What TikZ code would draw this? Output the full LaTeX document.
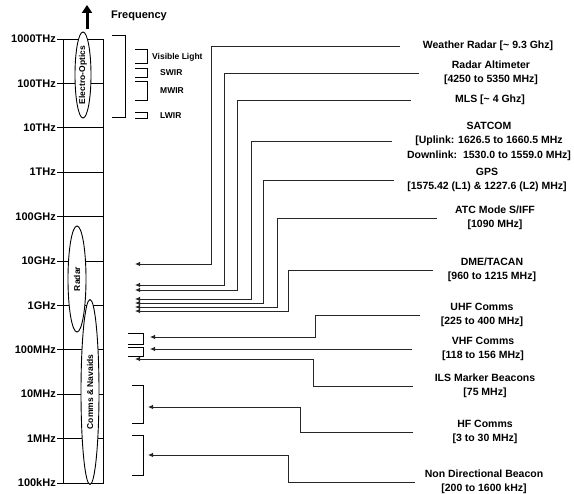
\documentclass[tikz,border=0pt]{standalone}
\usepackage{fontspec}
\setmainfont{Liberation Sans}
\usetikzlibrary{arrows.meta,shapes.geometric}

\begin{document}
\begin{tikzpicture}[
  x=1pt, y=-1pt,
  lbl/.style={font=\fontsize{10.5}{14.5}\selectfont\bfseries, align=center, inner sep=0pt},
  tk/.style={font=\fontsize{11}{13}\selectfont\bfseries, anchor=east, inner sep=1pt},
  sub/.style={font=\fontsize{8.5}{10}\selectfont\bfseries, anchor=west, inner sep=0pt},
  band/.style={ellipse, draw, fill=white, rotate=90, inner sep=0pt, line width=0.9pt, font=\fontsize{8.5}{10}\selectfont\bfseries},
  axisline/.style={line width=0.9pt},
  brk/.style={line width=0.8pt},
  feed/.style={-{Latex[length=5pt,width=4.5pt]}, line width=0.8pt, black!85}
]
\path[use as bounding box, fill=white] (0,0) rectangle (574,494);

\node[draw, axisline, minimum width=40pt, minimum height=444pt, inner sep=0pt] (col) at (83,261) {};
\node[tk] (t0) at (57,39) {1000THz};
\node[tk] (t1) at (57,83.4) {100THz};
\node[tk] (t2) at (57,127.8) {10THz};
\node[tk] (t3) at (57,172.2) {1THz};
\node[tk] (t4) at (57,216.6) {100GHz};
\node[tk] (t5) at (57,261) {10GHz};
\node[tk] (t6) at (57,305.4) {1GHz};
\node[tk] (t7) at (57,349.8) {100MHz};
\node[tk] (t8) at (57,394.2) {10MHz};
\node[tk] (t9) at (57,438.6) {1MHz};
\node[tk] (t10) at (57,483) {100kHz};
\draw[axisline] (t0.east) -- (t0.east -| col.east);
\draw[axisline] (t1.east) -- (t1.east -| col.east);
\draw[axisline] (t2.east) -- (t2.east -| col.east);
\draw[axisline] (t3.east) -- (t3.east -| col.east);
\draw[axisline] (t4.east) -- (t4.east -| col.east);
\draw[axisline] (t5.east) -- (t5.east -| col.east);
\draw[axisline] (t6.east) -- (t6.east -| col.east);
\draw[axisline] (t7.east) -- (t7.east -| col.east);
\draw[axisline] (t8.east) -- (t8.east -| col.east);
\draw[axisline] (t9.east) -- (t9.east -| col.east);
\draw[axisline] (t10.east) -- (t10.east -| col.east);

\node[band, minimum width=86pt, minimum height=16pt] (eo) at (83,75) {Electro-Optics};
\node[band, minimum width=106pt, minimum height=18pt] (radar) at (77,279) {Radar};
\node[band, minimum width=185pt, minimum height=18pt] (cn) at (90,392) {Comms \& Navaids};

\draw[line width=3pt, -{Triangle[length=8pt,width=10pt]}] (87,29) -- (87,5);
\node[sub, font=\fontsize{11}{13}\selectfont\bfseries] (fq) at (111,16) {Frequency};

\draw[brk] (112,35) -| (125,117) -- (112,117);
\draw[brk] (135,49) -| (147,63) -- (135,63);
\draw[brk] (135,68) -| (147,77) -- (135,77);
\draw[brk] (135,81) -| (147,100) -- (135,100);
\draw[brk] (135,112) -| (147,118) -- (135,118);
\node[sub] (vis) at (152,57) {Visible Light};
\node[sub] (swir) at (160,73) {SWIR};
\node[sub] (mwir) at (160,91) {MWIR};
\node[sub] (lwir) at (160,116) {LWIR};

\draw[brk] (128,333) -| (143,344) -- (128,344);
\draw[brk] (128,347) -| (143,356) -- (128,356);
\draw[brk] (132,385) -| (143,423) -- (132,423);
\draw[brk] (132,435) -| (143,475) -- (132,475);

\node[lbl] (wr) at (488,46) {Weather Radar [\textasciitilde{} 9.3 Ghz]};
\node[lbl] (ra) at (491,73) {Radar Altimeter\\{[4250 to 5350 MHz]}};
\node[lbl] (mls) at (490,100) {MLS [\textasciitilde{} 4 Ghz]};
\node[lbl] (sat) at (489,141) {SATCOM\\{[Uplink: 1626.5 to 1660.5 MHz}\\{Downlink:\ \ 1530.0 to 1559.0 MHz]}};
\node[lbl] (gps) at (487,180) {GPS\\{[1575.42 (L1) \& 1227.6 (L2) MHz]}};
\node[lbl] (atc) at (495,218) {ATC Mode S/IFF\\{[1090 MHz]}};
\node[lbl] (dme) at (492,270) {DME/TACAN\\{[960 to 1215 MHz]}};
\node[lbl] (uhf) at (482,315) {UHF Comms\\{[225 to 400 MHz]}};
\node[lbl] (vhf) at (483,349) {VHF Comms\\{[118 to 156 MHz]}};
\node[lbl] (ils) at (485,386) {ILS Marker Beacons\\{[75 MHz]}};
\node[lbl] (hf) at (485,432) {HF Comms\\{[3 to 30 MHz]}};
\node[lbl] (ndb) at (484,482) {Non Directional Beacon\\{[200 to 1600 kHz]}};

\coordinate (wr-to) at (135,264);
\coordinate (ra-to) at (135,285);
\coordinate (mls-to) at (135,290);
\coordinate (sat-to) at (135,299);
\coordinate (gps-to) at (135,303);
\coordinate (atc-to) at (135,307);
\coordinate (dme-to) at (135,311);
\coordinate (uhf-to) at (150,337);
\coordinate (vhf-to) at (150,349);
\coordinate (ils-to) at (135,359);
\coordinate (hf-to) at (148,407);
\coordinate (ndb-to) at (148,455);

\draw[feed, shorten <=23pt] (wr.west) -| (211,264) -- (wr-to);
\draw[feed, shorten <=25pt] (ra.west) -| (224,285) -- (ra-to);
\draw[feed, shorten <=44pt] (mls.west) -| (237,290) -- (mls-to);
\draw[feed, shorten <=15pt] (sat.west) -| (251,299) -- (sat-to);
\draw[feed, shorten <=13pt] (gps.west) -| (263,303) -- (gps-to);
\draw[feed, shorten <=18pt] (atc.west) -| (277,307) -- (atc-to);
\draw[feed, shorten <=15pt] (dme.west) -| (288,311) -- (dme-to);
\draw[feed, shorten <=21pt] (uhf.west) -| (315,337) -- (uhf-to);
\draw[feed, shorten <=30pt] (vhf.west) -- (vhf-to);
\draw[feed, shorten <=22pt] (ils.west) -| (313,359) -- (ils-to);
\draw[feed, shorten <=39pt] (hf.west) -| (300,407) -- (hf-to);
\draw[feed, shorten <=10pt] (ndb.west) -| (288,455) -- (ndb-to);
\end{tikzpicture}
\end{document}
